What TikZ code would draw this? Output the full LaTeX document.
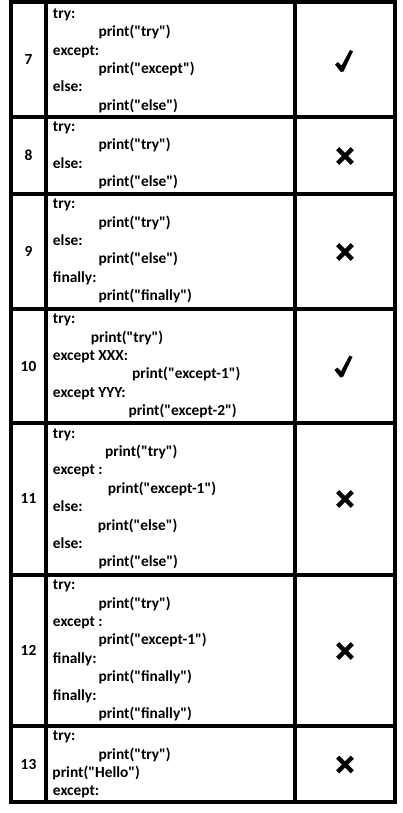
\documentclass[tikz,border=0pt]{standalone}
\usepackage{fontspec}
\setmainfont{Carlito}[Ligatures=TeXOff]
\tikzset{
  gridline/.style={line width=4bp, black},
  code/.style={anchor=base west, inner sep=0pt, font=\bfseries\fontsize{15.4bp}{18bp}\selectfont},
  num/.style={anchor=base, inner sep=0pt, font=\bfseries\fontsize{15.4bp}{18bp}\selectfont},
  crossstroke/.style={line width=4.3bp, line cap=butt},
  checkfill/.style={fill=black}
}
\newcommand\drawcheck[1]{%
  \fill[checkfill, shift={#1}] (-9.5,4) -- (-6.5,1.5) -- (-3,5.2) -- (5.5,-10.5) -- (8.5,-9.2) -- (-1,11) -- (-3.6,11.5) -- cycle;}
\newcommand\drawcross[1]{%
  \draw[crossstroke, shift={#1}] (-7.3,-7.3) -- (7.3,7.3) (-7.3,7.3) -- (7.3,-7.3);}
\begin{document}
\begin{tikzpicture}[x=1bp, y=-1bp]
\useasboundingbox (0,0) rectangle (402,813);
% row 7
\node[code] (r7a) at (52.8,18.3) {try:};
\node[code] (r7b) at (98.3,36.7) {print("try")};
\node[code] (r7c) at (52.8,55.1) {except:};
\node[code] (r7d) at (98.3,73.5) {print("except")};
\node[code] (r7e) at (52.8,91.9) {else:};
\node[code] (r7f) at (98.3,110.3) {print("else")};
% row 8
\node[code] (r8a) at (52.8,131.3) {try:};
\node[code] (r8b) at (98.3,149.7) {print("try")};
\node[code] (r8c) at (52.8,168.1) {else:};
\node[code] (r8d) at (98.3,186.5) {print("else")};
% row 9
\node[code] (r9a) at (52.8,208.7) {try:};
\node[code] (r9b) at (98.3,227.1) {print("try")};
\node[code] (r9c) at (52.8,245.5) {else:};
\node[code] (r9d) at (98.3,263.9) {print("else")};
\node[code] (r9e) at (52.8,282.3) {finally:};
\node[code] (r9f) at (98.3,300.7) {print("finally")};
% row 10
\node[code] (r10a) at (52.8,323.7) {try:};
\node[code] (r10b) at (90.7,342.1) {print("try")};
\node[code] (r10c) at (52.8,360.5) {except XXX:};
\node[code] (r10d) at (132,378.9) {print("except-1")};
\node[code] (r10e) at (52.8,397.3) {except YYY:};
\node[code] (r10f) at (128.3,415.7) {print("except-2")};
% row 11
\node[code] (r11a) at (52.8,438) {try:};
\node[code] (r11b) at (105,456.4) {print("try")};
\node[code] (r11c) at (52.8,474.8) {except :};
\node[code] (r11d) at (107.7,493.2) {print("except-1")};
\node[code] (r11e) at (52.8,511.6) {else:};
\node[code] (r11f) at (97.7,530) {print("else")};
\node[code] (r11g) at (52.8,548.4) {else:};
\node[code] (r11h) at (98.3,566.8) {print("else")};
% row 12
\node[code] (r12a) at (52.8,589.7) {try:};
\node[code] (r12b) at (98.3,608.1) {print("try")};
\node[code] (r12c) at (52.8,626.5) {except :};
\node[code] (r12d) at (98.3,644.9) {print("except-1")};
\node[code] (r12e) at (52.8,663.3) {finally:};
\node[code] (r12f) at (98.3,681.7) {print("finally")};
\node[code] (r12g) at (52.8,700.1) {finally:};
\node[code] (r12h) at (98.3,718.5) {print("finally")};
% row 13
\node[code] (r13a) at (52.8,740.7) {try:};
\node[code] (r13b) at (98.3,759.1) {print("try")};
\node[code] (r13c) at (52.3,777.5) {print("Hello")};
\node[code] (r13d) at (52.8,795.9) {except:};
% numbers
\node[num] (n7) at (28.5,64.9) {7};
\node[num] (n8) at (28.5,160.9) {8};
\node[num] (n9) at (28.5,256.7) {9};
\node[num] (n10) at (28.5,371) {10};
\node[num] (n11) at (28.5,503.9) {11};
\node[num] (n12) at (28.5,655.7) {12};
\node[num] (n13) at (28.5,769.4) {13};
% marks
\drawcheck{(344.5,60.5)}
\drawcross{(345,156)}
\drawcross{(345,252)}
\drawcheck{(344,366)}
\drawcross{(345,499)}
\drawcross{(345,651)}
\drawcross{(345,764.5)}
% grid
\draw[gridline] (11.3,2) rectangle (395.3,802);
\draw[gridline] (45.8,2) -- (45.8,802);
\draw[gridline] (295.3,2) -- (295.3,802);
\foreach \yy in {117,194,308.7,422.5,574.5,726}
  \draw[gridline] (11.3,\yy) -- (395.3,\yy);
\end{tikzpicture}
\end{document}
